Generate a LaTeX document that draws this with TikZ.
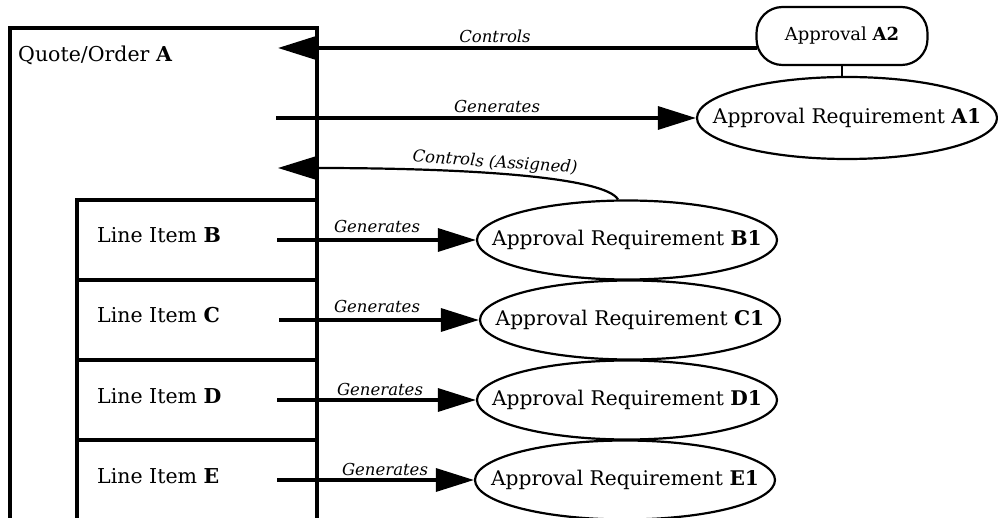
\documentclass[tikz,border=0pt]{standalone}
\usepackage{fontspec}
\setmainfont{DejaVu Serif}
\usetikzlibrary{arrows.meta,shapes.geometric}
\begin{document}
\begin{tikzpicture}[x=1pt,y=-1pt,
  boxline/.style={line width=3.3pt},
  bigtext/.style={font=\fontsize{20.5}{24}\selectfont, inner sep=0pt},
  lbl/.style={font=\fontsize{16.5}{20}\selectfont\itshape, inner sep=0pt},
  req/.style={ellipse, draw, line width=2.2pt, minimum width=300pt, minimum height=79pt, inner sep=0pt, font=\fontsize{20.2}{24}\selectfont},
  tipbig/.style={-{Triangle[length=38pt,width=23pt]}},
  conn/.style={line width=3.3pt, tipbig},
]
\useasboundingbox (0,0) rectangle (998,518);

% Quote/Order box (open at the bottom)
\draw[boxline] (10,518) -- (10,28) -- (317,28) -- (317,518);
% Line item boxes
\draw[boxline] (317,200) -- (77,200) -- (77,518);
\draw[boxline] (77,280) -- (317,280);
\draw[boxline] (77,360) -- (317,360);
\draw[boxline] (77,440) -- (317,440);

\node[bigtext, anchor=base west] (qo) at (18,62) {Quote/Order \textbf{A}};
\node[bigtext, anchor=base west] (lb) at (97,243) {Line Item \textbf{B}};
\node[bigtext, anchor=base west] (lc) at (97,323) {Line Item \textbf{C}};
\node[bigtext, anchor=base west] (ld) at (97,403) {Line Item \textbf{D}};
\node[bigtext, anchor=base west] (le) at (97,483) {Line Item \textbf{E}};

% Approval A2 and requirement A1
\node[draw, line width=2.2pt, rounded corners=26pt, minimum width=171pt, minimum height=58pt,
      inner sep=0pt, font=\fontsize{18}{22}\selectfont] (a2) at (842,36) {\makebox[0pt]{Approval \textbf{A2}}};
\node[req, minimum height=82pt] (a1) at (847,118) {\makebox[0pt]{Approval Requirement \textbf{A1}}};
\draw[line width=2.2pt] (a2.south) -- (a2.south |- a1.north);

\node[req] (b1) at (627,240) {\makebox[0pt]{Approval Requirement \textbf{B1}}};
\node[req] (c1) at (630,320) {\makebox[0pt]{Approval Requirement \textbf{C1}}};
\node[req] (d1) at (627,400) {\makebox[0pt]{Approval Requirement \textbf{D1}}};
\node[req] (e1) at (625,480) {\makebox[0pt]{Approval Requirement \textbf{E1}}};

% Controls (A2 -> Quote/Order)
\coordinate (ctip) at (278,48);
\draw[conn] ([xshift=2pt]a2.west |- ctip) -- (ctip);
\node[lbl, anchor=base] (lctl) at (495,43) {Controls};

% Generates (Quote/Order -> A1)
\coordinate (ga) at (276,118);
\draw[conn] (ga) -- (a1.west);
\node[lbl, anchor=base] (lga) at (497,113) {Generates};

% Controls (Assigned) (B1 -> Quote/Order)
\coordinate (catip) at (278,168);
\draw[line width=2.2pt, tipbig] ([xshift=-9pt]b1.north) .. controls (605,178) and (480,168) .. (catip);
\node[lbl, rotate=-4] (lcas) at (495,163) {Controls (Assigned)};

% Generates from line items
\coordinate (gb) at (277,240);
\coordinate (gc) at (279,320);
\coordinate (gd) at (277,400);
\coordinate (ge) at (277,480);
\draw[conn] (gb) -- (b1.west);
\draw[conn] (gc) -- (c1.west);
\draw[conn] (gd) -- (d1.west);
\draw[conn] (ge) -- (e1.west);
\node[lbl, anchor=base] (lgb) at (377,233) {Generates};
\node[lbl, anchor=base] (lgc) at (377,313) {Generates};
\node[lbl, anchor=base] (lgd) at (380,395) {Generates};
\node[lbl, anchor=base] (lge) at (385,475) {Generates};
\end{tikzpicture}
\end{document}
